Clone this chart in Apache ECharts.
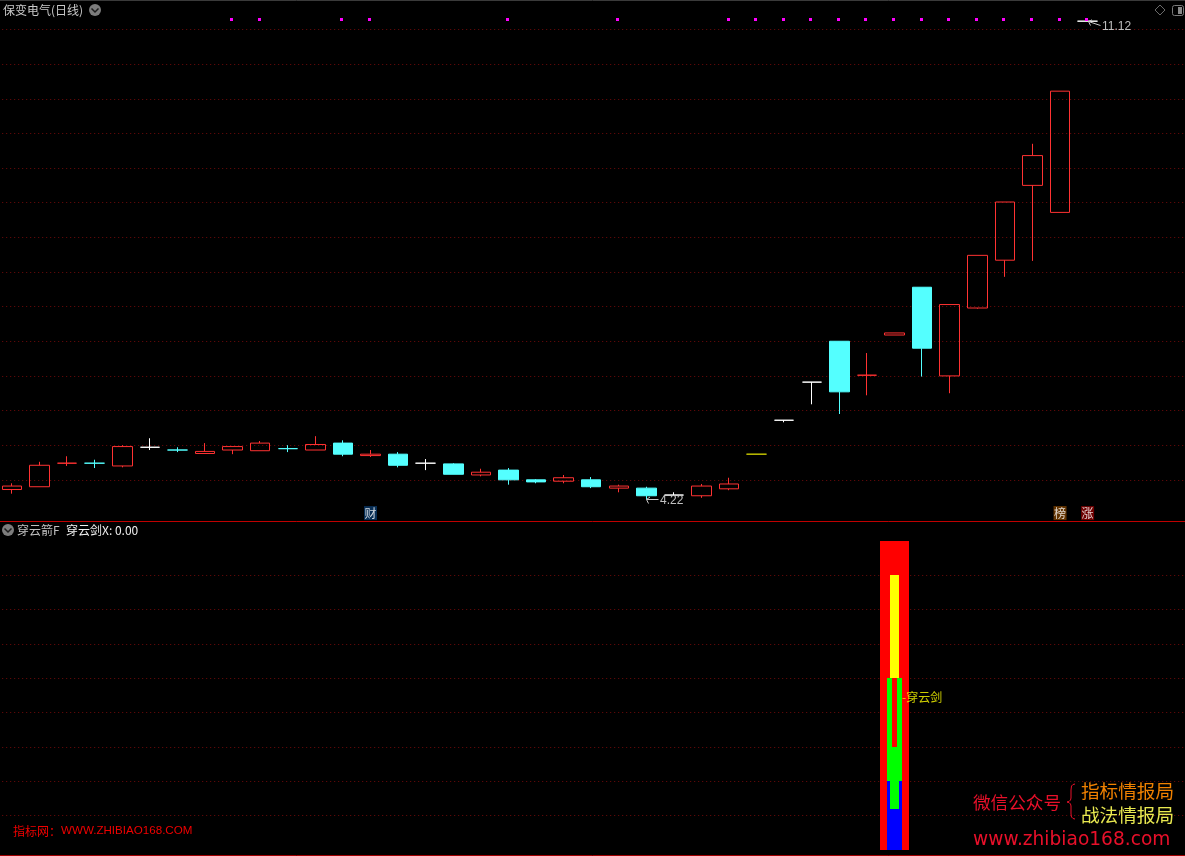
<!DOCTYPE html>
<html><head><meta charset="utf-8">
<style>html,body{margin:0;padding:0;background:#000;overflow:hidden}#c{width:1185px;height:856px}</style>
<script src="https://cdn.jsdelivr.net/npm/echarts@6/dist/echarts.min.js"></script>
</head><body><div id="c"></div>
<script>
const days = Array.from({length:43},(_,i)=>'D'+(i+1));
const opens  = [4.36,4.40,4.74,4.74,4.70,4.97,4.93,4.88,4.93,4.92,4.95,4.93,5.03,4.85,4.87,4.74,4.73,4.57,4.64,4.50,4.48,4.50,4.38,4.38,4.28,4.27,4.37,4.87,5.36,5.91,6.50,6.01,6.59,7.28,6.00,6.98,7.67,8.75,8.36,11.12];
const closes = [4.41,4.71,4.74,4.74,4.98,4.97,4.93,4.91,4.98,5.03,4.95,5.01,4.87,4.87,4.71,4.74,4.58,4.61,4.50,4.47,4.53,4.40,4.41,4.27,4.28,4.41,4.44,4.87,5.36,5.91,5.77,6.01,6.62,6.40,7.03,7.74,8.51,9.18,10.11,11.12];
const lows   = [4.30,4.40,4.70,4.67,4.68,4.93,4.90,4.88,4.87,4.92,4.90,4.93,4.84,4.83,4.68,4.64,4.58,4.55,4.43,4.45,4.45,4.38,4.32,4.22,4.28,4.24,4.35,4.87,5.33,5.59,5.45,5.72,6.59,5.99,5.75,6.97,7.43,7.66,8.36,11.12];
const highs  = [4.45,4.76,4.84,4.79,5.00,5.10,4.97,5.03,4.98,5.06,5.00,5.13,5.07,4.93,4.90,4.80,4.74,4.66,4.67,4.51,4.57,4.54,4.43,4.40,4.32,4.44,4.53,4.87,5.36,5.91,6.50,6.33,6.62,7.28,7.03,7.74,8.51,9.35,10.11,11.12];
const kinds  = ['R','R','R','C','R','W','C','R','R','R','C','R','C','R','C','W','C','R','C','C','R','C','R','C','W','R','R','Y','W','W','C','R','R','C','R','R','R','R','R','W'];
const signalDays = [8,9,12,13,18,22,26,27,28,29,30,31,32,33,34,35,36,37,38,39];
const signalPrice = 11.14;
const extremes = [[39,11.12,'11.12'],[23,4.22,'4.22']];
const tags = [[13,'财'],[38,'榜'],[39,'涨']];
const tagColors = ['#0a3a6a','#7a4000','#8b0000'];
const tagPrice = 4.02;
const swordDay = 32;
const outerRed = [0,9], yellowCore = [5,8], greenBody = [2,5], blueBase = [0,2], greenTail = [1.2,2], innerRed = [3,5];
const swordLabel = [[32,4.43,'-穿云剑']];

const palette = {R:'#ff3232',C:'#54ffff',W:'#ffffff',Y:'#c8c800'};
const cjk = '"Noto Sans CJK SC","Liberation Sans",sans-serif';
const gridDots = {show:true,showMinLine:false,showMaxLine:false,lineStyle:{color:'#700a0a',type:[1,3],width:1}};

const candleData = opens.map((o,i)=>{
  const c = palette[kinds[i]];
  const hollow = kinds[i]==='R';
  return {value:[o,closes[i],lows[i],highs[i]],itemStyle:{
    color:hollow?'transparent':c,color0:c,borderColor:c,borderColor0:c,borderColorDoji:c,borderWidth:1}};
});

function layer(range,width,color){
  return {type:'custom',xAxisIndex:1,yAxisIndex:1,data:[[swordDay,range[0],range[1]]],silent:true,
    encode:{x:0,y:[1,2]},
    renderItem(p,api){
      const x=api.coord([api.value(0),0])[0];
      const y0=api.coord([api.value(0),api.value(1)])[1];
      const y1=api.coord([api.value(0),api.value(2)])[1];
      return {type:'rect',shape:{x:Math.round(x-width/2),y:Math.round(y1),width:width,height:Math.round(y0)-Math.round(y1)},style:{fill:color}};
    }};
}
function text(x,y,s,fill,size,family,extra){
  return Object.assign({type:'text',x:x,y:y,silent:true,z:20,style:{text:s,fill:fill,font:size+'px '+(family||cjk),textVerticalAlign:'middle'}},extra||{});
}
function hline(y,color){return {type:'line',silent:true,z:20,shape:{x1:0,y1:y,x2:1185,y2:y},style:{stroke:color,lineWidth:1}};}
function chevron(cx,cy){return {type:'group',silent:true,z:20,children:[
  {type:'circle',shape:{cx:cx,cy:cy,r:6},style:{fill:'#7c7c7c'}},
  {type:'polyline',shape:{points:[[cx-3.5,cy-1.5],[cx,cy+2],[cx+3.5,cy-1.5]]},style:{stroke:'#1c1c1c',lineWidth:1.5,fill:null}}]};}

const chart = echarts.init(document.getElementById('c'),null,{renderer:'canvas'});
chart.setOption({
  backgroundColor:'#000',animation:false,
  grid:[{outerBoundsMode:'none',left:-1.8,top:-5.14,width:1185.94,height:519.6},{outerBoundsMode:'none',left:-1.8,top:541,width:1185.94,height:309}],
  xAxis:[0,1].map(g=>({type:'category',gridIndex:g,data:days,show:false,axisTick:{show:false},axisLabel:{show:false},axisLine:{show:false},splitLine:{show:false}})),
  yAxis:[
    {type:'value',gridIndex:0,min:4,max:11.5,interval:0.5,axisLine:{show:false},axisTick:{show:false},axisLabel:{show:false},splitLine:gridDots},
    {type:'value',gridIndex:1,min:0,max:9,interval:1,axisLine:{show:false},axisTick:{show:false},axisLabel:{show:false},splitLine:gridDots}
  ],
  series:[
    {type:'candlestick',xAxisIndex:0,yAxisIndex:0,barWidth:20,silent:true,data:candleData,clip:false},
    {type:'custom',xAxisIndex:0,yAxisIndex:0,silent:true,z:5,encode:{x:0,y:1},data:signalDays.map(d=>[d,signalPrice]),
      renderItem(p,api){
        const pt=api.coord([api.value(0),api.value(1)]);
        return {type:'rect',shape:{x:Math.round(pt[0]-2.5),y:Math.round(pt[1]-1.5),width:3,height:3},style:{fill:'#ff00ff'}};
      }},
    {type:'custom',xAxisIndex:0,yAxisIndex:0,silent:true,z:6,data:extremes,encode:{x:0,y:1},
      renderItem(p,api){
        const pt=api.coord([api.value(0),api.value(1)]);
        const x=Math.round(pt[0])+0.5,y=Math.round(pt[1])+0.5,dy=api.value(1)>8?4:0,len=12;
        const s=extremes[p.dataIndex][2];
        return {type:'group',children:[
          {type:'polyline',shape:{points:[[x+len,y+dy],[x,y]]},style:{stroke:'#c8c8c8',lineWidth:1,fill:null}},
          {type:'polyline',shape:{points:[[x+3.5,y-2.5+dy*0.2],[x,y],[x+2,y+4]]},style:{stroke:'#c8c8c8',lineWidth:1,fill:null}},
          {type:'text',x:x+len+1.5,y:y+dy+1.5,style:{text:s,fill:'#c0c0c0',font:'12px "Liberation Sans",sans-serif',textVerticalAlign:'middle'}}
        ]};
      }},
    {type:'scatter',xAxisIndex:0,yAxisIndex:0,symbolSize:1,silent:true,z:6,itemStyle:{color:'transparent'},
      data:tags.map((t,i)=>({value:[t[0],tagPrice],name:t[1],label:{backgroundColor:tagColors[i]}})),
      label:{show:true,position:'inside',formatter:'{b}',color:'#fff',fontSize:12,fontFamily:cjk,lineHeight:13,padding:[0.5,0.5,0.5,0.5]}},
    layer(outerRed,29,'#ff0000'),
    layer(yellowCore,9,'#ffff00'),
    layer(greenBody,15,'#00ff00'),
    layer(blueBase,15,'#0000ff'),
    layer(greenTail,9,'#00ff00'),
    layer(innerRed,5,'#ff0000'),
    {type:'scatter',xAxisIndex:1,yAxisIndex:1,symbolSize:1,silent:true,z:8,itemStyle:{color:'transparent'},
      data:swordLabel.map(t=>({value:[t[0],t[1]],name:t[2]})),
      label:{show:true,position:'right',distance:7,formatter:'{b}',color:'#ffff00',fontSize:12,fontFamily:cjk}}
  ],
  graphic:[
    hline(0.5,'#3a3a3a'),hline(521.5,'#c00000'),hline(855.5,'#a00000'),
    text(3,10,'保变电气(日线)','#c8c8c8',12),chevron(95,10),
    chevron(8,530),
    text(17,530,'穿云箭F','#c0c0c0',12),
    text(66,530,'穿云剑X: 0.00','#f0f0f0',12),
    {type:'polygon',silent:true,z:20,shape:{points:[[1160,5],[1165,10],[1160,15],[1155,10]]},style:{stroke:'#6a6a6a',fill:null,lineWidth:1}},
    {type:'rect',silent:true,z:20,shape:{x:1172.5,y:5.5,width:11,height:10,r:2},style:{stroke:'#7a7a7a',fill:null,lineWidth:1}},
    {type:'rect',silent:true,z:20,shape:{x:1178,y:7,width:4,height:7},style:{fill:'#8a8a8a'}},
    text(973,802,'微信公众号','#e8102a',17.6),
    {type:'polyline',silent:true,z:20,shape:{points:[[1075,784],[1073,784.5],[1071.5,786],[1071,790],[1071,798],[1070.5,800],[1069,801.5],[1067,802],[1069,802.5],[1070.5,804],[1071,806],[1071,814],[1071.5,817],[1073,818.5],[1075,819]]},style:{stroke:'#e8102a',fill:null,lineWidth:1}},
    text(1081,791,'指标情报局','#f08000',18.6),
    text(1081,815,'战法情报局','#e8e850',18.6),
    text(973,840,'www.zhibiao168.com','#e8102a',18.6,'"DejaVu Sans",sans-serif'),
    text(13,831,'指标网：','#f00000',12),
    text(61,831,'WWW.ZHIBIAO168.COM','#f00000',11.6,'"Liberation Sans",sans-serif')
  ]
});
</script></body></html>
